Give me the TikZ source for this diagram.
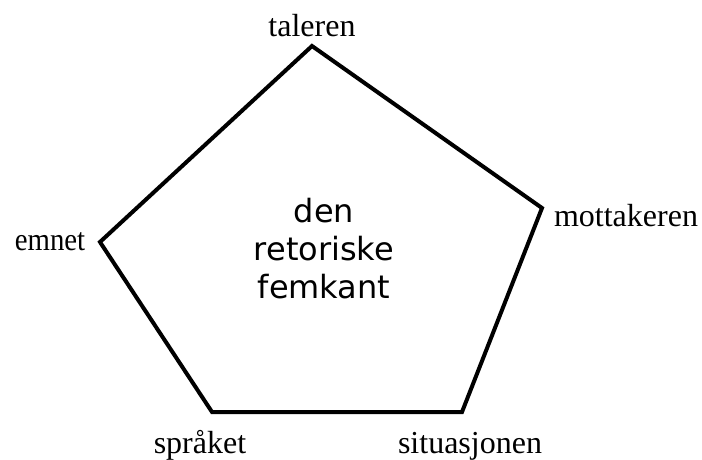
\documentclass[tikz,border=0pt]{standalone}
\usepackage{fontspec}
\setmainfont{Liberation Serif}
\newfontfamily\centerfont{DejaVu Sans}
\begin{document}
\begin{tikzpicture}[x=1pt,y=-1pt,
  lbl/.style={font=\fontsize{32}{36}\selectfont, inner sep=0pt, anchor=base},
  vtx/.style={coordinate},
  edge/.style={line width=4pt, line join=miter}]
\useasboundingbox (0,0) rectangle (702,459);
\coordinate (t) at (312,46);
\coordinate (r) at (542,208);
\coordinate (br) at (462,412);
\coordinate (bl) at (212,412);
\coordinate (l) at (100,242);
\draw[edge] (t) -- (r) -- (br) -- (bl) -- (l) -- cycle;
\node[lbl] (taleren) at (312,36) {taleren};
\node[lbl] (mottakeren) at (626,226) {mottakeren};
\node[lbl, xscale=0.9] (emnet) at (50,250) {emnet};
\node[lbl] (spraket) at (200,453) {språket};
\node[lbl] (situasjonen) at (470,453) {situasjonen};
\node[font=\centerfont\fontsize{32}{38}\selectfont, align=center, inner sep=0pt] (center) at (324,249) {den\\retoriske\\femkant};
\end{tikzpicture}
\end{document}
